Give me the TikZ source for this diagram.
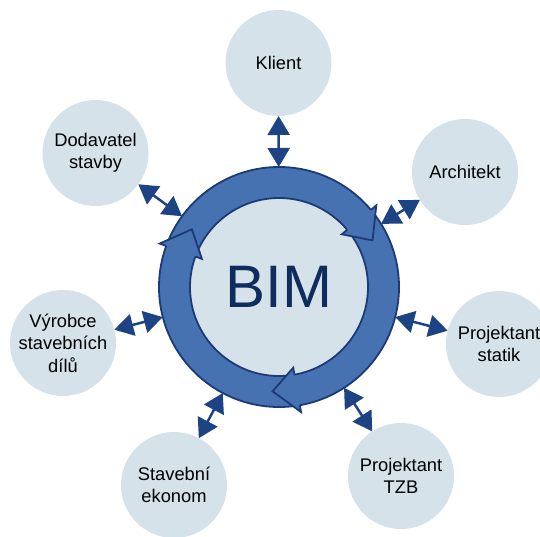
\documentclass[tikz,border=0pt]{standalone}
\usepackage{fontspec}
\setmainfont{Liberation Sans}
\usepackage{tikz}
\usetikzlibrary{arrows.meta,calc}

\definecolor{bimlight}{RGB}{214,226,234}
\definecolor{bimring}{RGB}{70,114,178}
\definecolor{bimdark}{RGB}{28,58,118}
\definecolor{bimarrow}{RGB}{30,67,133}
\definecolor{bimtext}{RGB}{14,44,94}

\tikzset{
  party/.style={circle, fill=bimlight, minimum size=106pt, inner sep=0pt,
    outer sep=0pt, align=center, font=\fontsize{18.3}{22.5}\selectfont},
  link/.style={bimarrow, line width=2.5pt,
    {Triangle[length=19pt,width=22pt]}-{Triangle[length=19pt,width=22pt]}}
}

\begin{document}
\begin{tikzpicture}[x=1pt,y=1pt]
\useasboundingbox (0,0) rectangle (540,536);
\coordinate (c) at (279,249);

% the ring
\fill[bimring] (c) circle (120pt);
\fill[bimlight] (c) circle (89pt);
\draw[bimdark, line width=1.8pt] (c) circle (120pt) (c) circle (89pt);

% three heads of the cycle, clockwise
\foreach \t in {26.5,146.5,266.5}{
  \pgfmathsetmacro\b{\t+13.5}
  \fill[bimring] ($(c)+(\b:127pt)$) -- ($(c)+(\t:104.5pt)$) -- ($(c)+(\b:82pt)$) -- cycle;
  \draw[bimdark, line width=1.8pt, line join=miter]
    ($(c)+(\b:120pt)$) -- ($(c)+(\b:127pt)$) -- ($(c)+(\t:104.5pt)$)
    -- ($(c)+(\b:82pt)$) -- ($(c)+(\b:89pt)$);
}

\node[circle, minimum size=240pt, inner sep=0pt, outer sep=0pt, text=bimtext,
  font=\fontsize{60}{60}\selectfont] (bim) at (c) {BIM};

% the parties round it
\node[party] (klient) at (278.5,473) {Klient};
\node[party] (dodavatel) at (95.5,383) {Dodavatel\\stavby};
\node[party] (architekt) at (465,364) {Architekt};
\node[party] (vyrobce) at (63,193) {Výrobce\\stavebních\\dílů};
\node[party] (statik) at (499,192) {Projektant\\statik};
\node[party] (ekonom) at (174,51) {Stavební\\ekonom};
\node[party] (tzb) at (401,60) {Projektant\\TZB};

\foreach \p in {klient,dodavatel,architekt,vyrobce,statik,ekonom,tzb}
  \draw[link] (\p) -- (bim);

\end{tikzpicture}
\end{document}
